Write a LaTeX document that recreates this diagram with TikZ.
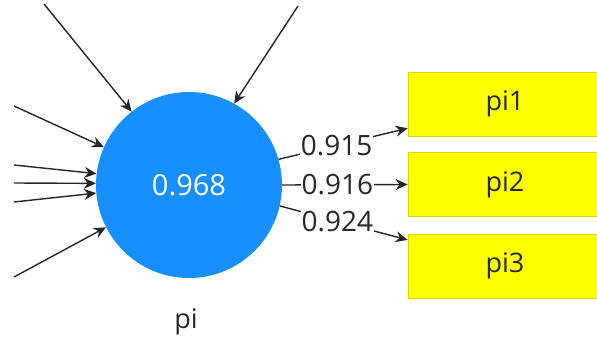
\documentclass[tikz,border=0pt]{standalone}
\usepackage{fontspec}
\setmainfont{Open Sans}
\usetikzlibrary{arrows.meta}
\definecolor{lvblue}{RGB}{24,143,255}
\definecolor{mvyellow}{RGB}{255,255,0}
\definecolor{mvedge}{RGB}{215,215,0}
\definecolor{txt}{RGB}{40,40,40}
\begin{document}
\begin{tikzpicture}[x=1pt,y=-1pt,
  latent/.style={circle,fill=lvblue,draw=none,minimum size=186pt,inner sep=0pt,
    text=white,font=\fontsize{29}{32}\selectfont},
  manifest/.style={rectangle,fill=mvyellow,draw=mvedge,line width=0.8pt,
    minimum width=194pt,minimum height=64pt,inner sep=0pt,text=txt,
    font=\fontsize{27}{30}\selectfont},
  arr/.style={draw=black!85,line width=1.4pt,-{Stealth[length=12pt,width=11pt]}},
  lab/.style={fill=white,inner sep=0.5pt,text=txt,font=\fontsize{28}{30}\selectfont}]
\useasboundingbox (0,0) rectangle (597,340);
\node[latent] (pi) at (189,185) {0.968};
\node[text=txt,font=\fontsize{27}{30}\selectfont] (pilab) at (186,322) {pi};
\node[manifest] (pi1) at (505,104) {pi1};
\node[manifest] (pi2) at (505,184.5) {pi2};
\node[manifest] (pi3) at (505,266) {pi3};
\coordinate (s1) at (44,4);
\coordinate (s2) at (298,6);
\coordinate (s3) at (14,106);
\coordinate (s4) at (14,165);
\coordinate (s5) at (14,183);
\coordinate (s6) at (14,202);
\coordinate (s7) at (14,277);
\draw[arr] (s1) -- (pi.128);
\draw[arr] (s2) -- (pi.61);
\draw[arr] (s3) -- (pi.156);
\draw[arr] (s4) -- (pi.173);
\draw[arr] (s5) -- (pi.179.5);
\draw[arr] (s6) -- (pi.185.5);
\draw[arr] (s7) -- (pi.207);
\draw[arr] (pi.16) -- node[lab,pos=0.45]{0.915} (pi1.194);
\draw[arr] (pi.east) -- node[lab,pos=0.44]{0.916} (pi2.west);
\draw[arr] (pi.-13) -- node[lab,pos=0.45]{0.924} (pi3.165);
\end{tikzpicture}
\end{document}
